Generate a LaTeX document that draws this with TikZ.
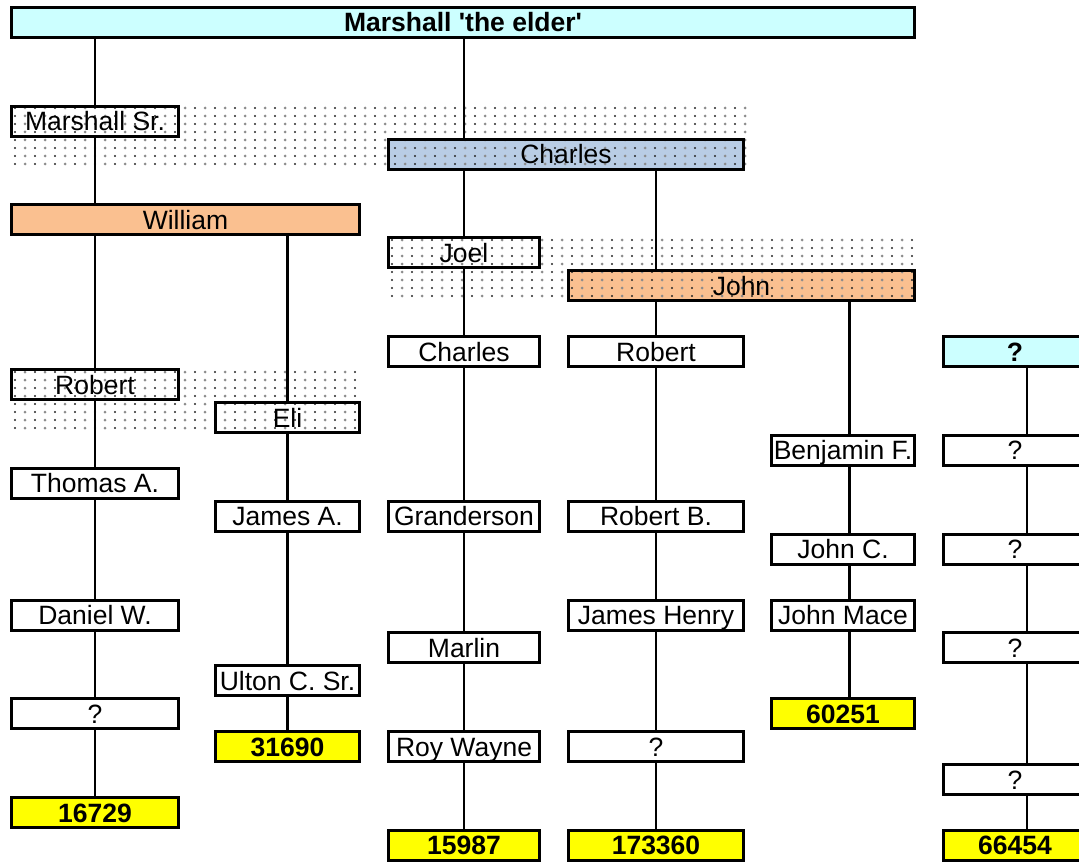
\documentclass[tikz,border=0pt]{standalone}
\usepackage{fontspec}
\setmainfont{Liberation Sans}[Ligatures=TeXOff]

\pgfdeclarelayer{back}
\pgfdeclarelayer{dots}
\pgfsetlayers{back,dots,main}

\definecolor{rootcyan}{HTML}{CCFFFF}
\definecolor{famorange}{HTML}{FAC090}
\definecolor{famblue}{HTML}{B9CDE5}
\definecolor{kityellow}{HTML}{FFFF00}

% name, style, left, right, row, text
\newcommand\member[6]{%
    \node[#2, minimum width={(#4-#3-3)*1pt}] (#1) at ({(#3+#4)/2}, {22.46+32.92*#5}) {#6};}

% dot pattern over a block of cells: left, top, right, bottom
\newcommand\dotfield[4]{%
    \pgfmathsetmacro\dxa{#1+5}\pgfmathsetmacro\dxb{#1+25}%
    \pgfmathsetmacro\dxc{#1+15}\pgfmathsetmacro\dxd{#1+35}%
    \pgfmathsetmacro\dya{#2+4}\pgfmathsetmacro\dyb{#2+12}%
    \foreach \x in {\dxa,\dxb,...,#3}
        \foreach \y in {\dya,\dyb,...,#4}
            \fill[black!85] (\x,\y) circle (1.1);
    \foreach \x in {\dxc,\dxd,...,#3}
        \foreach \y in {\dya,\dyb,...,#4}
            \fill[black!45] (\x,\y) circle (1.5);}

\begin{document}
\begin{tikzpicture}[x=1pt, y=-1pt,
        every node/.style={font=\fontsize{26.5}{29}\selectfont, inner sep=0pt,
            minimum height=30pt, text height=19pt, text depth=0pt, line width=3pt},
        person/.style={draw, fill=white},
        cellbox/.style={draw},
        rootbox/.style={draw, fill=rootcyan, font=\fontsize{26.5}{29}\selectfont\bfseries},
        parentbox/.style={draw, fill=famorange},
        kit/.style={draw, fill=kityellow, font=\fontsize{26.5}{29}\selectfont\bfseries},
        link/.style={line width=2.6pt}]
    \useasboundingbox (0,0) rectangle (1079,864);

    % generations
    \member{elder}{rootbox}{10}{916}{0}{Marshall 'the elder'}
    \member{msr}{cellbox}{10}{180}{3}{Marshall Sr.}
    \member{charlesb}{cellbox}{387}{745}{4}{Charles}
    \member{william}{parentbox}{10}{361}{6}{William}
    \member{joel}{cellbox}{387}{541}{7}{Joel}
    \member{john}{cellbox}{567}{916}{8}{John}
    \member{charles}{person}{387}{541}{10}{Charles}
    \member{robertd}{person}{567}{745}{10}{Robert}
    \member{unkroot}{rootbox}{942}{1088}{10}{?}
    \member{robert}{cellbox}{10}{180}{11}{Robert}
    \member{eli}{cellbox}{214}{361}{12}{Eli}
    \member{benjamin}{person}{770}{916}{13}{Benjamin F.}
    \member{unka}{person}{942}{1088}{13}{?}
    \member{thomas}{person}{10}{180}{14}{Thomas A.}
    \member{james}{person}{214}{361}{15}{James A.}
    \member{granderson}{person}{387}{541}{15}{Granderson}
    \member{robertb}{person}{567}{745}{15}{Robert B.}
    \member{johnc}{person}{770}{916}{16}{John C.}
    \member{unkb}{person}{942}{1088}{16}{?}
    \member{daniel}{person}{10}{180}{18}{Daniel W.}
    \member{jameshenry}{person}{567}{745}{18}{James Henry}
    \member{johnmace}{person}{770}{916}{18}{John Mace}
    \member{marlin}{person}{387}{541}{19}{Marlin}
    \member{unkc}{person}{942}{1088}{19}{?}
    \member{ulton}{person}{214}{361}{20}{Ulton C. Sr.}
    \member{unkd}{person}{10}{180}{21}{?}
    \member{kitE}{kit}{770}{916}{21}{60251}
    \member{kitB}{kit}{214}{361}{22}{31690}
    \member{roywayne}{person}{387}{541}{22}{Roy Wayne}
    \member{unke}{person}{567}{745}{22}{?}
    \member{unkf}{person}{942}{1088}{23}{?}
    \member{kitA}{kit}{10}{180}{24}{16729}
    \member{kitC}{kit}{387}{541}{25}{15987}
    \member{kitD}{kit}{567}{745}{25}{173360}
    \member{kitF}{kit}{942}{1088}{25}{66454}

    % cell fills and dot pattern
    \begin{pgfonlayer}{back}
        \fill[white] (0,0) rectangle (1079,864);
        \fill[famblue] (charlesb.north west) rectangle (charlesb.south east);
        \fill[famorange] (john.north west) rectangle (john.south east);
    \end{pgfonlayer}
    \begin{pgfonlayer}{dots}
        \dotfield{10}{104}{745}{170}
        \dotfield{387}{236}{916}{302}
        \dotfield{10}{368}{361}{434}
    \end{pgfonlayer}

    % connectors
    \coordinate (colE) at ([xshift=6.5pt]benjamin.north);
    \coordinate (colF) at ([xshift=12pt]unkroot.north);
    \draw[link] (elder.south -| msr) -- (msr.north);
    \draw[link] (elder.south -| charles) -- (charlesb.north -| charles);
    \draw[link] (msr.south) -- (william.north -| msr);
    \draw[link] (charlesb.south -| joel) -- (joel.north);
    \draw[link] (charlesb.south -| robertd) -- (john.north -| robertd);
    \draw[link] (william.south -| robert) -- (robert.north);
    \draw[link] (william.south -| eli) -- (eli.north);
    \draw[link] (john.south -| robertd) -- (robertd.north);
    \draw[link] (john.south -| colE) -- (colE);
    \foreach \a/\b/\s in {robert/thomas/0, thomas/daniel/0, daniel/unkd/0, unkd/kitA/0,
            eli/james/0, james/ulton/0, ulton/kitB/0,
            joel/charles/0, charles/granderson/0, granderson/marlin/0, marlin/roywayne/0, roywayne/kitC/0,
            robertd/robertb/0, robertb/jameshenry/0, jameshenry/unke/0, unke/kitD/0,
            benjamin/johnc/6.5, johnc/johnmace/6.5, johnmace/kitE/6.5,
            unkroot/unka/12, unka/unkb/12, unkb/unkc/12, unkc/unkf/12, unkf/kitF/12}
        \draw[link] ([xshift=\s pt]\a.south) -- ([xshift=\s pt]\b.north);
\end{tikzpicture}
\end{document}
